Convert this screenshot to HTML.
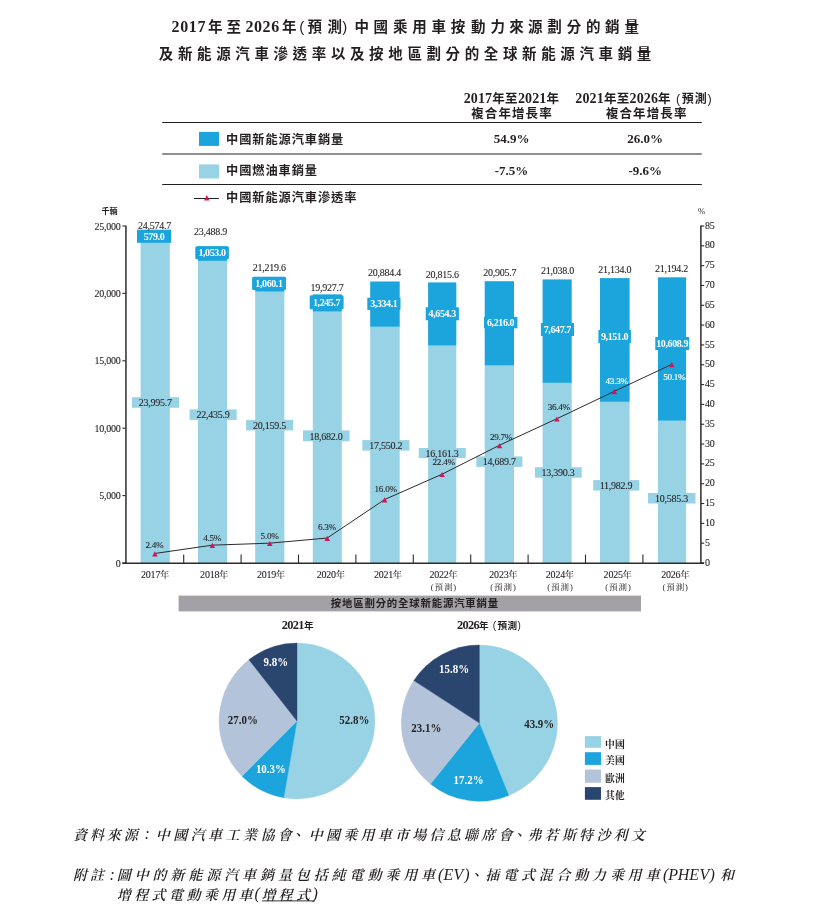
<!DOCTYPE html><html lang="zh-Hant"><head><meta charset="utf-8"><title>chart</title>
<style>html,body{margin:0;padding:0;background:#fff}svg{display:block}text{white-space:pre}</style></head><body>
<svg width="831" height="922" viewBox="0 0 831 922">
<rect width="831" height="922" fill="#fff"/>
<text x="171.6 180.2 188.8 197.4" y="31.90" style="font-family:'Liberation Serif','Noto Sans CJK TC','Noto Sans CJK SC',sans-serif;font-size:16px;font-weight:bold;fill:#231f20;">2017</text>
<text x="207.9 226.4" y="31.90" style="font-family:'Liberation Serif','Noto Sans CJK TC','Noto Sans CJK SC',sans-serif;font-size:14.5px;font-weight:bold;fill:#231f20;">年至</text>
<text x="245.4 254.0 262.6 271.2" y="31.90" style="font-family:'Liberation Serif','Noto Sans CJK TC','Noto Sans CJK SC',sans-serif;font-size:16px;font-weight:bold;fill:#231f20;">2026</text>
<text x="282.1" y="31.90" style="font-family:'Liberation Serif','Noto Sans CJK TC','Noto Sans CJK SC',sans-serif;font-size:14.5px;font-weight:bold;fill:#231f20;">年</text>
<text x="299.2" y="31.70" style="font-family:'Liberation Sans',sans-serif;font-size:15px;fill:#231f20">(</text>
<text x="307.4 327.6" y="31.90" style="font-family:'Liberation Serif','Noto Sans CJK TC','Noto Sans CJK SC',sans-serif;font-size:14.5px;font-weight:bold;fill:#231f20;">預測</text>
<text x="342.2" y="31.70" style="font-family:'Liberation Sans',sans-serif;font-size:15px;fill:#231f20">)</text>
<text x="354.6 373.6 393.0 412.3 431.5 450.8 471.0 490.5 509.2 528.0 547.2 566.8 586.0 604.9 624.6" y="31.90" style="font-family:'Liberation Serif','Noto Sans CJK TC','Noto Sans CJK SC',sans-serif;font-size:14.5px;font-weight:bold;fill:#231f20;">中國乘用車按動力來源劃分的銷量</text>
<text x="158.8 177.9 197.0 216.2 235.3 254.4 273.5 292.6 311.8 330.9 350.0 369.1 388.2 407.4 426.5 445.6 464.7 483.8 503.0 522.1 541.2 560.3 579.4 598.6 617.7 636.8" y="59.20" style="font-family:'Liberation Serif','Noto Sans CJK TC','Noto Sans CJK SC',sans-serif;font-size:14.5px;font-weight:bold;fill:#231f20;">及新能源汽車滲透率以及按地區劃分的全球新能源汽車銷量</text>
<line x1="162.20" y1="122.50" x2="701.80" y2="122.50" stroke="#231f20" stroke-width="1"/>
<line x1="162.20" y1="154.00" x2="701.80" y2="154.00" stroke="#231f20" stroke-width="1"/>
<line x1="162.20" y1="184.50" x2="701.80" y2="184.50" stroke="#231f20" stroke-width="1"/>
<text x="511.50" y="102.90" text-anchor="middle" style="font-family:'Liberation Serif','Noto Sans CJK TC','Noto Sans CJK SC',sans-serif;font-weight:bold;fill:#231f20;"><tspan style="font-size:14px;letter-spacing:0.15px;">2017</tspan><tspan style="font-size:12.5px;letter-spacing:0.3px;">年至</tspan><tspan style="font-size:14px;letter-spacing:0.15px;">2021</tspan><tspan style="font-size:12.5px;letter-spacing:0.3px;">年</tspan></text>
<text x="512.00" y="117.53" text-anchor="middle" style="font-family:'Liberation Serif','Noto Sans CJK TC','Noto Sans CJK SC',sans-serif;font-size:12.5px;font-weight:bold;fill:#231f20;letter-spacing:1.1px;">複合年增長率</text>
<text x="644.30" y="102.90" text-anchor="middle" style="font-family:'Liberation Serif','Noto Sans CJK TC','Noto Sans CJK SC',sans-serif;font-weight:bold;fill:#231f20;"><tspan style="font-size:14px;letter-spacing:0.15px;">2021</tspan><tspan style="font-size:12.5px;letter-spacing:0.3px;">年至</tspan><tspan style="font-size:14px;letter-spacing:0.15px;">2026</tspan><tspan style="font-size:12.5px;letter-spacing:0.3px;">年</tspan><tspan style="font-size:12.5px;font-family:'Liberation Sans',sans-serif;font-weight:normal;letter-spacing:1.6px;"> (</tspan><tspan style="font-size:12px;letter-spacing:0.9px;">預測</tspan><tspan style="font-size:12.5px;font-family:'Liberation Sans',sans-serif;font-weight:normal;letter-spacing:1.6px;">)</tspan></text>
<text x="646.70" y="117.53" text-anchor="middle" style="font-family:'Liberation Serif','Noto Sans CJK TC','Noto Sans CJK SC',sans-serif;font-size:12.5px;font-weight:bold;fill:#231f20;letter-spacing:1.1px;">複合年增長率</text>
<rect x="199.00" y="131.90" width="20.00" height="14.00" fill="#1ca4dc"/>
<rect x="199.00" y="164.40" width="20.00" height="14.10" fill="#98d3e5"/>
<text x="226.00" y="143.61" text-anchor="start" style="font-family:'Liberation Serif','Noto Sans CJK TC','Noto Sans CJK SC',sans-serif;font-size:12.2px;font-weight:bold;fill:#231f20;letter-spacing:0.95px;">中國新能源汽車銷量</text>
<text x="226.00" y="175.01" text-anchor="start" style="font-family:'Liberation Serif','Noto Sans CJK TC','Noto Sans CJK SC',sans-serif;font-size:12.2px;font-weight:bold;fill:#231f20;letter-spacing:0.95px;">中國燃油車銷量</text>
<text x="226.00" y="202.21" text-anchor="start" style="font-family:'Liberation Serif','Noto Sans CJK TC','Noto Sans CJK SC',sans-serif;font-size:12.2px;font-weight:bold;fill:#231f20;letter-spacing:0.95px;">中國新能源汽車滲透率</text>
<text x="511.50" y="143.49" text-anchor="middle" style="font-family:'Liberation Serif','Noto Serif CJK TC','Noto Serif CJK SC',serif;font-size:13px;font-weight:bold;fill:#231f20;">54.9%</text>
<text x="645.20" y="143.49" text-anchor="middle" style="font-family:'Liberation Serif','Noto Serif CJK TC','Noto Serif CJK SC',serif;font-size:13px;font-weight:bold;fill:#231f20;">26.0%</text>
<text x="511.50" y="174.89" text-anchor="middle" style="font-family:'Liberation Serif','Noto Serif CJK TC','Noto Serif CJK SC',serif;font-size:13px;font-weight:bold;fill:#231f20;">-7.5%</text>
<text x="645.20" y="174.89" text-anchor="middle" style="font-family:'Liberation Serif','Noto Serif CJK TC','Noto Serif CJK SC',serif;font-size:13px;font-weight:bold;fill:#231f20;">-9.6%</text>
<line x1="194.00" y1="198.50" x2="218.90" y2="198.50" stroke="#231f20" stroke-width="1"/>
<polygon points="206.80,195.10 209.50,200.50 204.10,200.50" fill="#d4145a"/>
<rect x="140.60" y="239.54" width="29.20" height="323.46" fill="#98d3e5"/>
<rect x="140.60" y="231.73" width="29.20" height="8.10" fill="#1ca4dc"/>
<rect x="198.00" y="260.56" width="29.00" height="302.44" fill="#98d3e5"/>
<rect x="198.00" y="246.37" width="29.00" height="14.49" fill="#1ca4dc"/>
<rect x="255.20" y="291.25" width="29.20" height="271.75" fill="#98d3e5"/>
<rect x="255.20" y="276.96" width="29.20" height="14.59" fill="#1ca4dc"/>
<rect x="312.80" y="311.17" width="29.00" height="251.83" fill="#98d3e5"/>
<rect x="312.80" y="294.37" width="29.00" height="17.09" fill="#1ca4dc"/>
<rect x="370.20" y="326.42" width="29.50" height="236.58" fill="#98d3e5"/>
<rect x="370.20" y="281.48" width="29.50" height="45.25" fill="#1ca4dc"/>
<rect x="428.10" y="345.15" width="28.20" height="217.85" fill="#98d3e5"/>
<rect x="428.10" y="282.41" width="28.20" height="63.04" fill="#1ca4dc"/>
<rect x="484.70" y="364.98" width="29.30" height="198.02" fill="#98d3e5"/>
<rect x="484.70" y="281.19" width="29.30" height="84.09" fill="#1ca4dc"/>
<rect x="542.60" y="382.50" width="29.10" height="180.50" fill="#98d3e5"/>
<rect x="542.60" y="279.41" width="29.10" height="103.39" fill="#1ca4dc"/>
<rect x="600.00" y="401.47" width="29.60" height="161.53" fill="#98d3e5"/>
<rect x="600.00" y="278.11" width="29.60" height="123.66" fill="#1ca4dc"/>
<rect x="658.00" y="420.31" width="28.10" height="142.69" fill="#98d3e5"/>
<rect x="658.00" y="277.30" width="28.10" height="143.31" fill="#1ca4dc"/>
<rect x="132.00" y="397.20" width="47.10" height="10.60" fill="#98d3e5"/>
<text x="155.35" y="406.18" text-anchor="middle" style="font-family:'Liberation Serif','Noto Serif CJK TC','Noto Serif CJK SC',serif;font-size:10px;font-weight:normal;fill:#231f20;letter-spacing:-0.25px;stroke:#231f20;stroke-width:0.1px;">23,995.7</text>
<rect x="189.60" y="409.40" width="47.10" height="10.50" fill="#98d3e5"/>
<text x="212.95" y="418.33" text-anchor="middle" style="font-family:'Liberation Serif','Noto Serif CJK TC','Noto Serif CJK SC',serif;font-size:10px;font-weight:normal;fill:#231f20;letter-spacing:-0.25px;stroke:#231f20;stroke-width:0.1px;">22,435.9</text>
<rect x="246.10" y="419.90" width="47.10" height="10.50" fill="#98d3e5"/>
<text x="269.45" y="428.83" text-anchor="middle" style="font-family:'Liberation Serif','Noto Serif CJK TC','Noto Serif CJK SC',serif;font-size:10px;font-weight:normal;fill:#231f20;letter-spacing:-0.25px;stroke:#231f20;stroke-width:0.1px;">20,159.5</text>
<rect x="303.00" y="430.40" width="46.60" height="10.90" fill="#98d3e5"/>
<text x="326.10" y="439.53" text-anchor="middle" style="font-family:'Liberation Serif','Noto Serif CJK TC','Noto Serif CJK SC',serif;font-size:10px;font-weight:normal;fill:#231f20;letter-spacing:-0.25px;stroke:#231f20;stroke-width:0.1px;">18,682.0</text>
<rect x="362.30" y="440.10" width="47.10" height="10.50" fill="#98d3e5"/>
<text x="385.65" y="449.03" text-anchor="middle" style="font-family:'Liberation Serif','Noto Serif CJK TC','Noto Serif CJK SC',serif;font-size:10px;font-weight:normal;fill:#231f20;letter-spacing:-0.25px;stroke:#231f20;stroke-width:0.1px;">17,550.2</text>
<rect x="418.70" y="448.00" width="47.10" height="10.10" fill="#98d3e5"/>
<text x="442.05" y="456.73" text-anchor="middle" style="font-family:'Liberation Serif','Noto Serif CJK TC','Noto Serif CJK SC',serif;font-size:10px;font-weight:normal;fill:#231f20;letter-spacing:-0.25px;stroke:#231f20;stroke-width:0.1px;">16,161.3</text>
<rect x="476.30" y="456.40" width="46.10" height="10.50" fill="#98d3e5"/>
<text x="499.15" y="465.33" text-anchor="middle" style="font-family:'Liberation Serif','Noto Serif CJK TC','Noto Serif CJK SC',serif;font-size:10px;font-weight:normal;fill:#231f20;letter-spacing:-0.25px;stroke:#231f20;stroke-width:0.1px;">14,689.7</text>
<rect x="534.90" y="467.20" width="46.80" height="10.50" fill="#98d3e5"/>
<text x="558.10" y="476.13" text-anchor="middle" style="font-family:'Liberation Serif','Noto Serif CJK TC','Noto Serif CJK SC',serif;font-size:10px;font-weight:normal;fill:#231f20;letter-spacing:-0.25px;stroke:#231f20;stroke-width:0.1px;">13,390.3</text>
<rect x="593.20" y="480.10" width="46.10" height="10.50" fill="#98d3e5"/>
<text x="616.05" y="489.03" text-anchor="middle" style="font-family:'Liberation Serif','Noto Serif CJK TC','Noto Serif CJK SC',serif;font-size:10px;font-weight:normal;fill:#231f20;letter-spacing:-0.25px;stroke:#231f20;stroke-width:0.1px;">11,982.9</text>
<rect x="648.00" y="493.00" width="47.50" height="10.50" fill="#98d3e5"/>
<text x="671.55" y="501.93" text-anchor="middle" style="font-family:'Liberation Serif','Noto Serif CJK TC','Noto Serif CJK SC',serif;font-size:10px;font-weight:normal;fill:#231f20;letter-spacing:-0.25px;stroke:#231f20;stroke-width:0.1px;">10,585.3</text>
<rect x="137.00" y="229.70" width="34.20" height="13.10" fill="#1ca4dc"/>
<text x="154.00" y="239.83" text-anchor="middle" style="font-family:'Liberation Serif','Noto Serif CJK TC','Noto Serif CJK SC',serif;font-size:10px;font-weight:bold;fill:#fff;letter-spacing:-0.4px;">579.0</text>
<rect x="195.30" y="246.30" width="33.60" height="13.00" fill="#1ca4dc" rx="1.5"/>
<text x="212.00" y="256.38" text-anchor="middle" style="font-family:'Liberation Serif','Noto Serif CJK TC','Noto Serif CJK SC',serif;font-size:10px;font-weight:bold;fill:#fff;letter-spacing:-0.4px;">1,053.0</text>
<rect x="252.10" y="276.80" width="33.90" height="13.20" fill="#1ca4dc" rx="1.5"/>
<text x="268.95" y="286.98" text-anchor="middle" style="font-family:'Liberation Serif','Noto Serif CJK TC','Noto Serif CJK SC',serif;font-size:10px;font-weight:bold;fill:#fff;letter-spacing:-0.4px;">1,060.1</text>
<rect x="309.70" y="295.30" width="33.90" height="13.90" fill="#1ca4dc" rx="1.5"/>
<text x="326.55" y="305.83" text-anchor="middle" style="font-family:'Liberation Serif','Noto Serif CJK TC','Noto Serif CJK SC',serif;font-size:10px;font-weight:bold;fill:#fff;letter-spacing:-0.4px;">1,245.7</text>
<rect x="367.30" y="297.70" width="33.20" height="12.20" fill="#1ca4dc"/>
<text x="383.80" y="307.38" text-anchor="middle" style="font-family:'Liberation Serif','Noto Serif CJK TC','Noto Serif CJK SC',serif;font-size:10px;font-weight:bold;fill:#fff;letter-spacing:-0.4px;">3,334.1</text>
<rect x="425.70" y="307.30" width="33.20" height="13.00" fill="#1ca4dc"/>
<text x="442.20" y="317.38" text-anchor="middle" style="font-family:'Liberation Serif','Noto Serif CJK TC','Noto Serif CJK SC',serif;font-size:10px;font-weight:bold;fill:#fff;letter-spacing:-0.4px;">4,654.3</text>
<rect x="484.00" y="316.90" width="33.40" height="11.40" fill="#1ca4dc"/>
<text x="500.60" y="326.18" text-anchor="middle" style="font-family:'Liberation Serif','Noto Serif CJK TC','Noto Serif CJK SC',serif;font-size:10px;font-weight:bold;fill:#fff;letter-spacing:-0.4px;">6,216.0</text>
<rect x="540.90" y="323.00" width="33.10" height="13.00" fill="#1ca4dc"/>
<text x="557.35" y="333.08" text-anchor="middle" style="font-family:'Liberation Serif','Noto Serif CJK TC','Noto Serif CJK SC',serif;font-size:10px;font-weight:bold;fill:#fff;letter-spacing:-0.4px;">7,647.7</text>
<rect x="598.40" y="330.00" width="32.50" height="13.00" fill="#1ca4dc"/>
<text x="614.55" y="340.08" text-anchor="middle" style="font-family:'Liberation Serif','Noto Serif CJK TC','Noto Serif CJK SC',serif;font-size:10px;font-weight:bold;fill:#fff;letter-spacing:-0.4px;">9,151.0</text>
<rect x="655.30" y="337.00" width="33.90" height="13.00" fill="#1ca4dc"/>
<text x="672.15" y="347.08" text-anchor="middle" style="font-family:'Liberation Serif','Noto Serif CJK TC','Noto Serif CJK SC',serif;font-size:10px;font-weight:bold;fill:#fff;letter-spacing:-0.4px;">10,608.9</text>
<text x="154.40" y="228.88" text-anchor="middle" style="font-family:'Liberation Serif','Noto Serif CJK TC','Noto Serif CJK SC',serif;font-size:10px;font-weight:normal;fill:#231f20;letter-spacing:-0.25px;stroke:#231f20;stroke-width:0.1px;">24,574.7</text>
<text x="210.43" y="235.18" text-anchor="middle" style="font-family:'Liberation Serif','Noto Serif CJK TC','Noto Serif CJK SC',serif;font-size:10px;font-weight:normal;fill:#231f20;letter-spacing:-0.25px;stroke:#231f20;stroke-width:0.1px;">23,488.9</text>
<text x="269.36" y="270.68" text-anchor="middle" style="font-family:'Liberation Serif','Noto Serif CJK TC','Noto Serif CJK SC',serif;font-size:10px;font-weight:normal;fill:#231f20;letter-spacing:-0.25px;stroke:#231f20;stroke-width:0.1px;">21,219.6</text>
<text x="326.99" y="290.98" text-anchor="middle" style="font-family:'Liberation Serif','Noto Serif CJK TC','Noto Serif CJK SC',serif;font-size:10px;font-weight:normal;fill:#231f20;letter-spacing:-0.25px;stroke:#231f20;stroke-width:0.1px;">19,927.7</text>
<text x="384.62" y="275.98" text-anchor="middle" style="font-family:'Liberation Serif','Noto Serif CJK TC','Noto Serif CJK SC',serif;font-size:10px;font-weight:normal;fill:#231f20;letter-spacing:-0.25px;stroke:#231f20;stroke-width:0.1px;">20,884.4</text>
<text x="442.35" y="278.28" text-anchor="middle" style="font-family:'Liberation Serif','Noto Serif CJK TC','Noto Serif CJK SC',serif;font-size:10px;font-weight:normal;fill:#231f20;letter-spacing:-0.25px;stroke:#231f20;stroke-width:0.1px;">20,815.6</text>
<text x="499.78" y="275.78" text-anchor="middle" style="font-family:'Liberation Serif','Noto Serif CJK TC','Noto Serif CJK SC',serif;font-size:10px;font-weight:normal;fill:#231f20;letter-spacing:-0.25px;stroke:#231f20;stroke-width:0.1px;">20,905.7</text>
<text x="557.41" y="274.08" text-anchor="middle" style="font-family:'Liberation Serif','Noto Serif CJK TC','Noto Serif CJK SC',serif;font-size:10px;font-weight:normal;fill:#231f20;letter-spacing:-0.25px;stroke:#231f20;stroke-width:0.1px;">21,038.0</text>
<text x="614.64" y="273.38" text-anchor="middle" style="font-family:'Liberation Serif','Noto Serif CJK TC','Noto Serif CJK SC',serif;font-size:10px;font-weight:normal;fill:#231f20;letter-spacing:-0.25px;stroke:#231f20;stroke-width:0.1px;">21,134.0</text>
<text x="671.47" y="272.38" text-anchor="middle" style="font-family:'Liberation Serif','Noto Serif CJK TC','Noto Serif CJK SC',serif;font-size:10px;font-weight:normal;fill:#231f20;letter-spacing:-0.25px;stroke:#231f20;stroke-width:0.1px;">21,194.2</text>
<line x1="125.95" y1="225.50" x2="125.95" y2="563.80" stroke="#2e2a2b" stroke-width="1.5"/>
<line x1="700.90" y1="225.50" x2="700.90" y2="563.80" stroke="#2e2a2b" stroke-width="1.5"/>
<line x1="122.30" y1="563.20" x2="704.00" y2="563.20" stroke="#2e2a2b" stroke-width="1.5"/>
<line x1="122.40" y1="563.00" x2="125.60" y2="563.00" stroke="#2e2a2b" stroke-width="1.1"/>
<text x="120.60" y="566.58" text-anchor="end" style="font-family:'Liberation Serif','Noto Serif CJK TC','Noto Serif CJK SC',serif;font-size:10px;font-weight:normal;fill:#231f20;letter-spacing:-0.25px;stroke:#231f20;stroke-width:0.1px;">0</text>
<line x1="122.40" y1="495.60" x2="125.60" y2="495.60" stroke="#2e2a2b" stroke-width="1.1"/>
<text x="120.60" y="499.18" text-anchor="end" style="font-family:'Liberation Serif','Noto Serif CJK TC','Noto Serif CJK SC',serif;font-size:10px;font-weight:normal;fill:#231f20;letter-spacing:-0.25px;stroke:#231f20;stroke-width:0.1px;">5,000</text>
<line x1="122.40" y1="428.20" x2="125.60" y2="428.20" stroke="#2e2a2b" stroke-width="1.1"/>
<text x="120.60" y="431.78" text-anchor="end" style="font-family:'Liberation Serif','Noto Serif CJK TC','Noto Serif CJK SC',serif;font-size:10px;font-weight:normal;fill:#231f20;letter-spacing:-0.25px;stroke:#231f20;stroke-width:0.1px;">10,000</text>
<line x1="122.40" y1="360.80" x2="125.60" y2="360.80" stroke="#2e2a2b" stroke-width="1.1"/>
<text x="120.60" y="364.38" text-anchor="end" style="font-family:'Liberation Serif','Noto Serif CJK TC','Noto Serif CJK SC',serif;font-size:10px;font-weight:normal;fill:#231f20;letter-spacing:-0.25px;stroke:#231f20;stroke-width:0.1px;">15,000</text>
<line x1="122.40" y1="293.40" x2="125.60" y2="293.40" stroke="#2e2a2b" stroke-width="1.1"/>
<text x="120.60" y="296.98" text-anchor="end" style="font-family:'Liberation Serif','Noto Serif CJK TC','Noto Serif CJK SC',serif;font-size:10px;font-weight:normal;fill:#231f20;letter-spacing:-0.25px;stroke:#231f20;stroke-width:0.1px;">20,000</text>
<line x1="122.40" y1="226.00" x2="125.60" y2="226.00" stroke="#2e2a2b" stroke-width="1.1"/>
<text x="120.60" y="229.58" text-anchor="end" style="font-family:'Liberation Serif','Noto Serif CJK TC','Noto Serif CJK SC',serif;font-size:10px;font-weight:normal;fill:#231f20;letter-spacing:-0.25px;stroke:#231f20;stroke-width:0.1px;">25,000</text>
<line x1="701.00" y1="563.00" x2="704.20" y2="563.00" stroke="#2e2a2b" stroke-width="1.1"/>
<text x="705.00" y="565.58" text-anchor="start" style="font-family:'Liberation Serif','Noto Serif CJK TC','Noto Serif CJK SC',serif;font-size:10px;font-weight:normal;fill:#231f20;letter-spacing:-0.25px;stroke:#231f20;stroke-width:0.1px;">0</text>
<line x1="701.00" y1="543.18" x2="704.20" y2="543.18" stroke="#2e2a2b" stroke-width="1.1"/>
<text x="705.00" y="545.76" text-anchor="start" style="font-family:'Liberation Serif','Noto Serif CJK TC','Noto Serif CJK SC',serif;font-size:10px;font-weight:normal;fill:#231f20;letter-spacing:-0.25px;stroke:#231f20;stroke-width:0.1px;">5</text>
<line x1="701.00" y1="523.35" x2="704.20" y2="523.35" stroke="#2e2a2b" stroke-width="1.1"/>
<text x="705.00" y="525.93" text-anchor="start" style="font-family:'Liberation Serif','Noto Serif CJK TC','Noto Serif CJK SC',serif;font-size:10px;font-weight:normal;fill:#231f20;letter-spacing:-0.25px;stroke:#231f20;stroke-width:0.1px;">10</text>
<line x1="701.00" y1="503.53" x2="704.20" y2="503.53" stroke="#2e2a2b" stroke-width="1.1"/>
<text x="705.00" y="506.11" text-anchor="start" style="font-family:'Liberation Serif','Noto Serif CJK TC','Noto Serif CJK SC',serif;font-size:10px;font-weight:normal;fill:#231f20;letter-spacing:-0.25px;stroke:#231f20;stroke-width:0.1px;">15</text>
<line x1="701.00" y1="483.71" x2="704.20" y2="483.71" stroke="#2e2a2b" stroke-width="1.1"/>
<text x="705.00" y="486.29" text-anchor="start" style="font-family:'Liberation Serif','Noto Serif CJK TC','Noto Serif CJK SC',serif;font-size:10px;font-weight:normal;fill:#231f20;letter-spacing:-0.25px;stroke:#231f20;stroke-width:0.1px;">20</text>
<line x1="701.00" y1="463.88" x2="704.20" y2="463.88" stroke="#2e2a2b" stroke-width="1.1"/>
<text x="705.00" y="466.46" text-anchor="start" style="font-family:'Liberation Serif','Noto Serif CJK TC','Noto Serif CJK SC',serif;font-size:10px;font-weight:normal;fill:#231f20;letter-spacing:-0.25px;stroke:#231f20;stroke-width:0.1px;">25</text>
<line x1="701.00" y1="444.06" x2="704.20" y2="444.06" stroke="#2e2a2b" stroke-width="1.1"/>
<text x="705.00" y="446.64" text-anchor="start" style="font-family:'Liberation Serif','Noto Serif CJK TC','Noto Serif CJK SC',serif;font-size:10px;font-weight:normal;fill:#231f20;letter-spacing:-0.25px;stroke:#231f20;stroke-width:0.1px;">30</text>
<line x1="701.00" y1="424.24" x2="704.20" y2="424.24" stroke="#2e2a2b" stroke-width="1.1"/>
<text x="705.00" y="426.82" text-anchor="start" style="font-family:'Liberation Serif','Noto Serif CJK TC','Noto Serif CJK SC',serif;font-size:10px;font-weight:normal;fill:#231f20;letter-spacing:-0.25px;stroke:#231f20;stroke-width:0.1px;">35</text>
<line x1="701.00" y1="404.41" x2="704.20" y2="404.41" stroke="#2e2a2b" stroke-width="1.1"/>
<text x="705.00" y="406.99" text-anchor="start" style="font-family:'Liberation Serif','Noto Serif CJK TC','Noto Serif CJK SC',serif;font-size:10px;font-weight:normal;fill:#231f20;letter-spacing:-0.25px;stroke:#231f20;stroke-width:0.1px;">40</text>
<line x1="701.00" y1="384.59" x2="704.20" y2="384.59" stroke="#2e2a2b" stroke-width="1.1"/>
<text x="705.00" y="387.17" text-anchor="start" style="font-family:'Liberation Serif','Noto Serif CJK TC','Noto Serif CJK SC',serif;font-size:10px;font-weight:normal;fill:#231f20;letter-spacing:-0.25px;stroke:#231f20;stroke-width:0.1px;">45</text>
<line x1="701.00" y1="364.76" x2="704.20" y2="364.76" stroke="#2e2a2b" stroke-width="1.1"/>
<text x="705.00" y="367.34" text-anchor="start" style="font-family:'Liberation Serif','Noto Serif CJK TC','Noto Serif CJK SC',serif;font-size:10px;font-weight:normal;fill:#231f20;letter-spacing:-0.25px;stroke:#231f20;stroke-width:0.1px;">50</text>
<line x1="701.00" y1="344.94" x2="704.20" y2="344.94" stroke="#2e2a2b" stroke-width="1.1"/>
<text x="705.00" y="347.52" text-anchor="start" style="font-family:'Liberation Serif','Noto Serif CJK TC','Noto Serif CJK SC',serif;font-size:10px;font-weight:normal;fill:#231f20;letter-spacing:-0.25px;stroke:#231f20;stroke-width:0.1px;">55</text>
<line x1="701.00" y1="325.12" x2="704.20" y2="325.12" stroke="#2e2a2b" stroke-width="1.1"/>
<text x="705.00" y="327.70" text-anchor="start" style="font-family:'Liberation Serif','Noto Serif CJK TC','Noto Serif CJK SC',serif;font-size:10px;font-weight:normal;fill:#231f20;letter-spacing:-0.25px;stroke:#231f20;stroke-width:0.1px;">60</text>
<line x1="701.00" y1="305.29" x2="704.20" y2="305.29" stroke="#2e2a2b" stroke-width="1.1"/>
<text x="705.00" y="307.87" text-anchor="start" style="font-family:'Liberation Serif','Noto Serif CJK TC','Noto Serif CJK SC',serif;font-size:10px;font-weight:normal;fill:#231f20;letter-spacing:-0.25px;stroke:#231f20;stroke-width:0.1px;">65</text>
<line x1="701.00" y1="285.47" x2="704.20" y2="285.47" stroke="#2e2a2b" stroke-width="1.1"/>
<text x="705.00" y="288.05" text-anchor="start" style="font-family:'Liberation Serif','Noto Serif CJK TC','Noto Serif CJK SC',serif;font-size:10px;font-weight:normal;fill:#231f20;letter-spacing:-0.25px;stroke:#231f20;stroke-width:0.1px;">70</text>
<line x1="701.00" y1="265.65" x2="704.20" y2="265.65" stroke="#2e2a2b" stroke-width="1.1"/>
<text x="705.00" y="268.23" text-anchor="start" style="font-family:'Liberation Serif','Noto Serif CJK TC','Noto Serif CJK SC',serif;font-size:10px;font-weight:normal;fill:#231f20;letter-spacing:-0.25px;stroke:#231f20;stroke-width:0.1px;">75</text>
<line x1="701.00" y1="245.82" x2="704.20" y2="245.82" stroke="#2e2a2b" stroke-width="1.1"/>
<text x="705.00" y="248.40" text-anchor="start" style="font-family:'Liberation Serif','Noto Serif CJK TC','Noto Serif CJK SC',serif;font-size:10px;font-weight:normal;fill:#231f20;letter-spacing:-0.25px;stroke:#231f20;stroke-width:0.1px;">80</text>
<line x1="701.00" y1="226.00" x2="704.20" y2="226.00" stroke="#2e2a2b" stroke-width="1.1"/>
<text x="705.00" y="228.58" text-anchor="start" style="font-family:'Liberation Serif','Noto Serif CJK TC','Noto Serif CJK SC',serif;font-size:10px;font-weight:normal;fill:#231f20;letter-spacing:-0.25px;stroke:#231f20;stroke-width:0.1px;">85</text>
<line x1="183.70" y1="554.50" x2="183.70" y2="563.00" stroke="#2e2a2b" stroke-width="1.1"/>
<line x1="241.10" y1="554.50" x2="241.10" y2="563.00" stroke="#2e2a2b" stroke-width="1.1"/>
<line x1="298.50" y1="554.50" x2="298.50" y2="563.00" stroke="#2e2a2b" stroke-width="1.1"/>
<line x1="355.90" y1="554.50" x2="355.90" y2="563.00" stroke="#2e2a2b" stroke-width="1.1"/>
<line x1="413.30" y1="554.50" x2="413.30" y2="563.00" stroke="#2e2a2b" stroke-width="1.1"/>
<line x1="470.70" y1="554.50" x2="470.70" y2="563.00" stroke="#2e2a2b" stroke-width="1.1"/>
<line x1="528.10" y1="554.50" x2="528.10" y2="563.00" stroke="#2e2a2b" stroke-width="1.1"/>
<line x1="585.50" y1="554.50" x2="585.50" y2="563.00" stroke="#2e2a2b" stroke-width="1.1"/>
<line x1="642.90" y1="554.50" x2="642.90" y2="563.00" stroke="#2e2a2b" stroke-width="1.1"/>
<text x="109.50" y="214.36" text-anchor="middle" style="font-family:'Liberation Serif','Noto Sans CJK TC','Noto Sans CJK SC',sans-serif;font-size:8px;font-weight:bold;fill:#231f20;">千輛</text>
<text x="701.60" y="213.67" text-anchor="middle" style="font-family:'Liberation Serif','Noto Serif CJK TC','Noto Serif CJK SC',serif;font-size:8.5px;font-weight:normal;fill:#231f20;">%</text>
<text x="155.00" y="577.90" text-anchor="middle" style="font-family:'Liberation Serif','Noto Serif CJK TC','Noto Serif CJK SC',serif;fill:#231f20;letter-spacing:-0.2px;stroke:#231f20;stroke-width:0.1px"><tspan style="font-size:10px">2017</tspan><tspan style="font-size:9px">年</tspan></text>
<text x="214.10" y="577.90" text-anchor="middle" style="font-family:'Liberation Serif','Noto Serif CJK TC','Noto Serif CJK SC',serif;fill:#231f20;letter-spacing:-0.2px;stroke:#231f20;stroke-width:0.1px"><tspan style="font-size:10px">2018</tspan><tspan style="font-size:9px">年</tspan></text>
<text x="270.90" y="577.90" text-anchor="middle" style="font-family:'Liberation Serif','Noto Serif CJK TC','Noto Serif CJK SC',serif;fill:#231f20;letter-spacing:-0.2px;stroke:#231f20;stroke-width:0.1px"><tspan style="font-size:10px">2019</tspan><tspan style="font-size:9px">年</tspan></text>
<text x="330.70" y="577.90" text-anchor="middle" style="font-family:'Liberation Serif','Noto Serif CJK TC','Noto Serif CJK SC',serif;fill:#231f20;letter-spacing:-0.2px;stroke:#231f20;stroke-width:0.1px"><tspan style="font-size:10px">2020</tspan><tspan style="font-size:9px">年</tspan></text>
<text x="387.90" y="577.90" text-anchor="middle" style="font-family:'Liberation Serif','Noto Serif CJK TC','Noto Serif CJK SC',serif;fill:#231f20;letter-spacing:-0.2px;stroke:#231f20;stroke-width:0.1px"><tspan style="font-size:10px">2021</tspan><tspan style="font-size:9px">年</tspan></text>
<text x="443.40" y="577.90" text-anchor="middle" style="font-family:'Liberation Serif','Noto Serif CJK TC','Noto Serif CJK SC',serif;fill:#231f20;letter-spacing:-0.2px;stroke:#231f20;stroke-width:0.1px"><tspan style="font-size:10px">2022</tspan><tspan style="font-size:9px">年</tspan></text>
<text x="443.90" y="589.67" text-anchor="middle" style="font-family:'Liberation Serif','Noto Serif CJK TC','Noto Serif CJK SC',serif;font-size:8.5px;font-weight:normal;fill:#231f20;letter-spacing:0.9px;">(預測)</text>
<text x="503.30" y="577.90" text-anchor="middle" style="font-family:'Liberation Serif','Noto Serif CJK TC','Noto Serif CJK SC',serif;fill:#231f20;letter-spacing:-0.2px;stroke:#231f20;stroke-width:0.1px"><tspan style="font-size:10px">2023</tspan><tspan style="font-size:9px">年</tspan></text>
<text x="503.50" y="589.67" text-anchor="middle" style="font-family:'Liberation Serif','Noto Serif CJK TC','Noto Serif CJK SC',serif;font-size:8.5px;font-weight:normal;fill:#231f20;letter-spacing:0.9px;">(預測)</text>
<text x="559.80" y="577.90" text-anchor="middle" style="font-family:'Liberation Serif','Noto Serif CJK TC','Noto Serif CJK SC',serif;fill:#231f20;letter-spacing:-0.2px;stroke:#231f20;stroke-width:0.1px"><tspan style="font-size:10px">2024</tspan><tspan style="font-size:9px">年</tspan></text>
<text x="560.50" y="589.67" text-anchor="middle" style="font-family:'Liberation Serif','Noto Serif CJK TC','Noto Serif CJK SC',serif;font-size:8.5px;font-weight:normal;fill:#231f20;letter-spacing:0.9px;">(預測)</text>
<text x="617.60" y="577.90" text-anchor="middle" style="font-family:'Liberation Serif','Noto Serif CJK TC','Noto Serif CJK SC',serif;fill:#231f20;letter-spacing:-0.2px;stroke:#231f20;stroke-width:0.1px"><tspan style="font-size:10px">2025</tspan><tspan style="font-size:9px">年</tspan></text>
<text x="618.50" y="589.67" text-anchor="middle" style="font-family:'Liberation Serif','Noto Serif CJK TC','Noto Serif CJK SC',serif;font-size:8.5px;font-weight:normal;fill:#231f20;letter-spacing:0.9px;">(預測)</text>
<text x="675.20" y="577.90" text-anchor="middle" style="font-family:'Liberation Serif','Noto Serif CJK TC','Noto Serif CJK SC',serif;fill:#231f20;letter-spacing:-0.2px;stroke:#231f20;stroke-width:0.1px"><tspan style="font-size:10px">2026</tspan><tspan style="font-size:9px">年</tspan></text>
<text x="675.70" y="589.67" text-anchor="middle" style="font-family:'Liberation Serif','Noto Serif CJK TC','Noto Serif CJK SC',serif;font-size:8.5px;font-weight:normal;fill:#231f20;letter-spacing:0.9px;">(預測)</text>
<polyline fill="none" stroke="#2e2a2b" stroke-width="1" points="154.90,553.48 212.33,545.16 269.76,543.18 327.19,538.02 384.62,499.56 442.05,474.19 499.48,445.25 556.91,418.68 614.34,391.33 671.77,364.37"/>
<polygon points="154.90,551.18 157.70,556.38 152.10,556.38" fill="#d4145a"/>
<polygon points="212.33,542.86 215.13,548.06 209.53,548.06" fill="#d4145a"/>
<polygon points="269.76,540.88 272.56,546.08 266.96,546.08" fill="#d4145a"/>
<polygon points="327.19,535.72 329.99,540.92 324.39,540.92" fill="#d4145a"/>
<polygon points="384.62,497.26 387.42,502.46 381.82,502.46" fill="#d4145a"/>
<polygon points="442.05,471.89 444.85,477.09 439.25,477.09" fill="#d4145a"/>
<polygon points="499.48,442.95 502.28,448.15 496.68,448.15" fill="#d4145a"/>
<polygon points="556.91,416.38 559.71,421.58 554.11,421.58" fill="#d4145a"/>
<polygon points="614.34,389.03 617.14,394.23 611.54,394.23" fill="#d4145a"/>
<polygon points="671.77,362.07 674.57,367.27 668.97,367.27" fill="#d4145a"/>
<text x="154.50" y="547.81" text-anchor="middle" style="font-family:'Liberation Serif','Noto Serif CJK TC','Noto Serif CJK SC',serif;font-size:9.2px;font-weight:normal;fill:#231f20;letter-spacing:-0.3px;stroke:#231f20;stroke-width:0.1px;">2.4%</text>
<text x="212.20" y="540.81" text-anchor="middle" style="font-family:'Liberation Serif','Noto Serif CJK TC','Noto Serif CJK SC',serif;font-size:9.2px;font-weight:normal;fill:#231f20;letter-spacing:-0.3px;stroke:#231f20;stroke-width:0.1px;">4.5%</text>
<text x="269.60" y="538.61" text-anchor="middle" style="font-family:'Liberation Serif','Noto Serif CJK TC','Noto Serif CJK SC',serif;font-size:9.2px;font-weight:normal;fill:#231f20;letter-spacing:-0.3px;stroke:#231f20;stroke-width:0.1px;">5.0%</text>
<text x="327.00" y="529.61" text-anchor="middle" style="font-family:'Liberation Serif','Noto Serif CJK TC','Noto Serif CJK SC',serif;font-size:9.2px;font-weight:normal;fill:#231f20;letter-spacing:-0.3px;stroke:#231f20;stroke-width:0.1px;">6.3%</text>
<text x="385.70" y="491.71" text-anchor="middle" style="font-family:'Liberation Serif','Noto Serif CJK TC','Noto Serif CJK SC',serif;font-size:9.2px;font-weight:normal;fill:#231f20;letter-spacing:-0.3px;stroke:#231f20;stroke-width:0.1px;">16.0%</text>
<text x="443.70" y="465.21" text-anchor="middle" style="font-family:'Liberation Serif','Noto Serif CJK TC','Noto Serif CJK SC',serif;font-size:9.2px;font-weight:normal;fill:#231f20;letter-spacing:-0.3px;stroke:#231f20;stroke-width:0.1px;">22.4%</text>
<text x="501.10" y="440.11" text-anchor="middle" style="font-family:'Liberation Serif','Noto Serif CJK TC','Noto Serif CJK SC',serif;font-size:9.2px;font-weight:normal;fill:#231f20;letter-spacing:-0.3px;stroke:#231f20;stroke-width:0.1px;">29.7%</text>
<text x="558.80" y="410.41" text-anchor="middle" style="font-family:'Liberation Serif','Noto Serif CJK TC','Noto Serif CJK SC',serif;font-size:9.2px;font-weight:normal;fill:#231f20;letter-spacing:-0.3px;stroke:#231f20;stroke-width:0.1px;">36.4%</text>
<text x="616.70" y="383.61" text-anchor="middle" style="font-family:'Liberation Serif','Noto Serif CJK TC','Noto Serif CJK SC',serif;font-size:9.2px;font-weight:normal;fill:#fff;letter-spacing:-0.3px;stroke:#fff;stroke-width:0.15px;">43.3%</text>
<text x="674.30" y="379.71" text-anchor="middle" style="font-family:'Liberation Serif','Noto Serif CJK TC','Noto Serif CJK SC',serif;font-size:9.2px;font-weight:normal;fill:#fff;letter-spacing:-0.3px;stroke:#fff;stroke-width:0.15px;">50.1%</text>
<rect x="178.60" y="595.60" width="462.40" height="15.80" fill="#a3a1a6"/>
<text x="414.90" y="607.35" text-anchor="middle" style="font-family:'Liberation Serif','Noto Sans CJK TC','Noto Sans CJK SC',sans-serif;font-size:10.4px;font-weight:bold;fill:#231f20;letter-spacing:0.82px;">按地區劃分的全球新能源汽車銷量</text>
<path d="M297.00,721.00 L297.00,643.10 A77.9,77.9 0 1 1 283.74,797.76 Z" fill="#98d3e5" stroke="#98d3e5" stroke-width="0.4"/>
<path d="M297.00,721.00 L283.74,797.76 A77.9,77.9 0 0 1 242.01,776.18 Z" fill="#1ca4dc" stroke="#1ca4dc" stroke-width="0.4"/>
<path d="M297.00,721.00 L242.01,776.18 A77.9,77.9 0 0 1 248.93,659.70 Z" fill="#b3c3d9" stroke="#b3c3d9" stroke-width="0.4"/>
<path d="M297.00,721.00 L248.93,659.70 A77.9,77.9 0 0 1 297.00,643.10 Z" fill="#2b466e" stroke="#2b466e" stroke-width="0.4"/>
<path d="M479.40,723.10 L479.40,645.00 A78.1,78.1 0 0 1 508.78,795.46 Z" fill="#98d3e5" stroke="#98d3e5" stroke-width="0.4"/>
<path d="M479.40,723.10 L508.78,795.46 A78.1,78.1 0 0 1 430.46,783.97 Z" fill="#1ca4dc" stroke="#1ca4dc" stroke-width="0.4"/>
<path d="M479.40,723.10 L430.46,783.97 A78.1,78.1 0 0 1 413.86,680.62 Z" fill="#b3c3d9" stroke="#b3c3d9" stroke-width="0.4"/>
<path d="M479.40,723.10 L413.86,680.62 A78.1,78.1 0 0 1 479.40,645.00 Z" fill="#2b466e" stroke="#2b466e" stroke-width="0.4"/>
<text transform="translate(354.30,724.39) scale(0.84,1)" text-anchor="middle" style="font-family:'Liberation Serif','Noto Serif CJK TC','Noto Serif CJK SC',serif;font-size:13px;font-weight:bold;fill:#231f20;">52.8%</text>
<text transform="translate(270.90,773.19) scale(0.84,1)" text-anchor="middle" style="font-family:'Liberation Serif','Noto Serif CJK TC','Noto Serif CJK SC',serif;font-size:13px;font-weight:bold;fill:#fff;">10.3%</text>
<text transform="translate(242.80,724.39) scale(0.84,1)" text-anchor="middle" style="font-family:'Liberation Serif','Noto Serif CJK TC','Noto Serif CJK SC',serif;font-size:13px;font-weight:bold;fill:#231f20;">27.0%</text>
<text transform="translate(275.80,666.09) scale(0.84,1)" text-anchor="middle" style="font-family:'Liberation Serif','Noto Serif CJK TC','Noto Serif CJK SC',serif;font-size:13px;font-weight:bold;fill:#fff;">9.8%</text>
<text transform="translate(539.20,727.99) scale(0.84,1)" text-anchor="middle" style="font-family:'Liberation Serif','Noto Serif CJK TC','Noto Serif CJK SC',serif;font-size:13px;font-weight:bold;fill:#231f20;">43.9%</text>
<text transform="translate(468.60,784.09) scale(0.84,1)" text-anchor="middle" style="font-family:'Liberation Serif','Noto Serif CJK TC','Noto Serif CJK SC',serif;font-size:13px;font-weight:bold;fill:#fff;">17.2%</text>
<text transform="translate(426.30,731.79) scale(0.84,1)" text-anchor="middle" style="font-family:'Liberation Serif','Noto Serif CJK TC','Noto Serif CJK SC',serif;font-size:13px;font-weight:bold;fill:#231f20;">23.1%</text>
<text transform="translate(454.10,672.89) scale(0.84,1)" text-anchor="middle" style="font-family:'Liberation Serif','Noto Serif CJK TC','Noto Serif CJK SC',serif;font-size:13px;font-weight:bold;fill:#fff;">15.8%</text>
<text x="297.60" y="629.10" text-anchor="middle" style="font-family:'Liberation Serif','Noto Sans CJK TC','Noto Sans CJK SC',sans-serif;font-weight:bold;fill:#231f20;"><tspan style="font-size:12.4px;letter-spacing:-0.65px;">2021</tspan><tspan style="font-size:9.6px;letter-spacing:0px;">年</tspan></text>
<text x="489.50" y="629.10" text-anchor="middle" style="font-family:'Liberation Serif','Noto Sans CJK TC','Noto Sans CJK SC',sans-serif;font-weight:bold;fill:#231f20;"><tspan style="font-size:12.4px;letter-spacing:-0.65px;">2026</tspan><tspan style="font-size:9.6px;letter-spacing:0.2px;">年</tspan><tspan style="font-size:10px;font-family:'Liberation Sans',sans-serif;font-weight:normal;letter-spacing:1.2px;"> (</tspan><tspan style="font-size:9.6px;letter-spacing:0.5px;">預測</tspan><tspan style="font-size:10px;font-family:'Liberation Sans',sans-serif;font-weight:normal;letter-spacing:1.2px;">)</tspan></text>
<rect x="584.90" y="736.10" width="16.10" height="11.70" fill="#98d3e5"/>
<text x="605.00" y="747.68" text-anchor="start" style="font-family:'Liberation Serif','Noto Serif CJK TC','Noto Serif CJK SC',serif;font-size:9.8px;font-weight:bold;fill:#231f20;letter-spacing:0.2px;">中國</text>
<rect x="584.90" y="752.20" width="16.10" height="12.70" fill="#1ca4dc"/>
<text x="605.00" y="764.28" text-anchor="start" style="font-family:'Liberation Serif','Noto Serif CJK TC','Noto Serif CJK SC',serif;font-size:9.8px;font-weight:bold;fill:#231f20;letter-spacing:0.2px;">美國</text>
<rect x="584.90" y="769.60" width="16.10" height="13.10" fill="#b3c3d9"/>
<text x="605.00" y="781.88" text-anchor="start" style="font-family:'Liberation Serif','Noto Serif CJK TC','Noto Serif CJK SC',serif;font-size:9.8px;font-weight:bold;fill:#231f20;letter-spacing:0.2px;">歐洲</text>
<rect x="584.90" y="787.10" width="16.10" height="12.70" fill="#2b466e"/>
<text x="605.00" y="799.18" text-anchor="start" style="font-family:'Liberation Serif','Noto Serif CJK TC','Noto Serif CJK SC',serif;font-size:9.8px;font-weight:bold;fill:#231f20;letter-spacing:0.2px;">其他</text>
<text x="73.0 89.9 106.8 123.7 155.8 173.2 190.7 208.1 225.5 243.0 260.4 277.8 308.8 326.1 343.3 360.6 377.8 395.1 412.3 429.6 446.8 464.1 481.3 498.6 527.4 544.6 561.9 579.1 596.4 613.6 630.9" y="839.54" style="font-family:'Liberation Serif','Noto Serif CJK TC','Noto Serif CJK SC',serif;font-size:14px;font-style:italic;font-weight:600;fill:#231f20;">資料來源中國汽車工業協會中國乘用車市場信息聯席會弗若斯特沙利文</text>
<text x="144.4" y="839.34" style="font-family:'Liberation Serif',serif;font-size:16px;font-style:italic;fill:#231f20;">:</text>
<text x="296.0 517.2" y="834.94" style="font-family:'Noto Serif CJK SC','Noto Serif CJK TC',serif;font-size:14px;font-weight:600;fill:#231f20;">、、</text>
<text x="73.0 89.9 116.8 134.7 152.6 170.5 188.4 206.3 224.2 242.1 260.0 277.9 295.8 313.7 331.6 349.5 367.4 385.3 403.2 421.1 485.4 503.2 521.0 538.7 556.5 574.3 592.1 609.9 627.6 645.4 719.9" y="879.74" style="font-family:'Liberation Serif','Noto Serif CJK TC','Noto Serif CJK SC',serif;font-size:14px;font-style:italic;font-weight:600;fill:#231f20;">附註圖中的新能源汽車銷量包括純電動乘用車插電式混合動力乘用車和</text>
<text x="109.6 438.0 443.6 453.6 464.2 663.0 668.2 677.8 689.2 699.4 709.6" y="879.54" style="font-family:'Liberation Serif',serif;font-size:16px;font-style:italic;fill:#231f20;">:(EV)(PHEV)</text>
<text x="474.6" y="875.14" style="font-family:'Noto Serif CJK SC','Noto Serif CJK TC',serif;font-size:14px;font-weight:600;fill:#231f20;">、</text>
<text x="116.8 134.2 151.6 169.0 186.4 203.8 221.2 238.6 261.6 278.4 296.1" y="899.64" style="font-family:'Liberation Serif','Noto Serif CJK TC','Noto Serif CJK SC',serif;font-size:14px;font-style:italic;font-weight:600;fill:#231f20;">增程式電動乘用車增程式</text>
<text x="254.6 312.4" y="899.44" style="font-family:'Liberation Serif',serif;font-size:16px;font-style:italic;fill:#231f20;">()</text>
<line x1="262.00" y1="900.90" x2="315.00" y2="900.90" stroke="#231f20" stroke-width="0.9"/>
</svg></body></html>
